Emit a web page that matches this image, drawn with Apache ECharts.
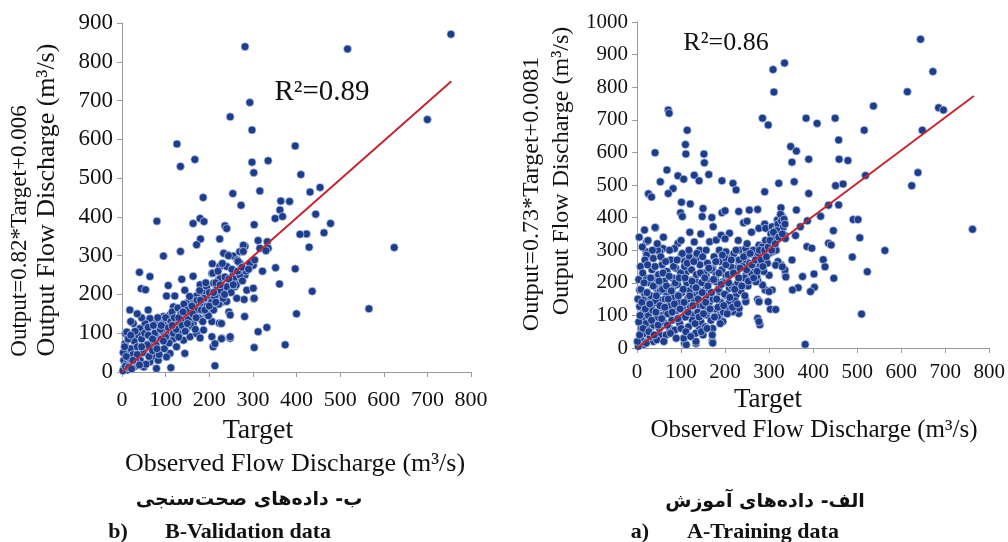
<!DOCTYPE html>
<html>
<head>
<meta charset="utf-8">
<script src="https://cdn.jsdelivr.net/npm/echarts@6/dist/echarts.min.js"></script>
<style>
  html, body { margin: 0; padding: 0; background: #fff; }
  #chart { width: 1008px; height: 542px; }
</style>
</head>
<body>
<div id="chart"></div>
<script>
// values: [target, output]
const validationPoints = [
  [754,871],[282,839],[517,833],[293,695],[248,658],[700,651],[298,624],[126,588],[397,583],[167,548],
  [335,545],[298,541],[134,530],[302,514],[410,509],[454,476],[431,464],[316,467],[254,460],[186,450],
  [273,430],[364,441],[384,440],[444,407],[179,396],[188,388],[163,383],[80,389],[478,383],[362,418],
  [351,396],[368,401],[303,380],[236,377],[240,370],[423,356],[408,355],[463,359],[180,343],[224,343],
  [312,339],[333,336],[171,328],[282,324],[429,322],[624,321],[316,319],[335,319],[95,299],[134,311],
  [330,313],[397,266],[352,269],[322,260],[301,275],[361,227],[436,208],[302,189],[280,187],[566,163],
  [400,150],[281,143],[245,155],[332,115],[312,104],[374,70],[303,63],[248,87],[229,87],[213,16],
  [112,11],[40,257],[64,246],[44,215],[54,212],[18,160],[8,99],[209,65],[206,130],[223,126],
  [229,180],[224,201],[217,220],[221,237],[206,254],[207,279],[224,272],[243,302],[255,299],[264,289],
  [270,310],[278,327],[259,254],[264,242],[259,220],[282,250],[285,263],[293,280],[304,289],
  [106,223],[121,196],[137,239],[102,196],[144,211],[163,247],[179,225],[194,219],[171,196],[156,187],
  [187,203],[210,229],[225,241],[218,216],[202,195],[179,168],[163,160],[148,177],[133,160],[118,168],
  [110,147],[95,143],[79,134],[64,138],[53,125],[41,112],[26,125],[26,99],[11,103],[7,73],
  [15,48],[4,30],[23,22],[34,39],[50,57],[64,73],[79,91],[95,103],[110,116],[125,125],
  [141,134],[156,147],[171,160],[187,173],[202,186],[218,199],[233,212],[248,229],[72,39],[87,57],
  [102,73],[118,86],[133,99],[148,112],[163,125],[179,138],[194,151],[210,160],[110,48],[125,65],
  [141,82],[156,91],[171,99],[187,108],[50,13],[79,9],[64,26],[83,30],[102,39],[144,48],
  [179,88],[206,91],[213,73],[228,86],[248,91],[240,272],[233,306],[255,251],[270,281],[278,311],
  [286,211],[301,216],[303,190],[263,190],[248,147],[228,125],[240,182],
  [5,10],[10,20],[12,5],[18,35],[20,60],[25,45],[28,80],[30,15],[35,65],[38,95],
  [42,30],[45,85],[48,50],[52,100],[55,20],[58,70],[60,115],[62,40],[66,90],[70,55],
  [72,120],[75,100],[78,70],[82,140],[85,45],[88,110],[90,85],[94,125],[97,60],[100,140],
  [104,95],[106,115],[108,75],[112,130],[115,155],[118,100],[120,140],[124,110],[128,165],[130,90],
  [135,150],[138,120],[142,175],[145,105],[150,160],[152,135],[155,195],[158,120],[162,150],[165,175],
  [168,110],[172,185],[175,140],[178,210],[182,160],[185,130],[188,190],[192,230],[195,170],[198,145],
  [200,205],[205,180],[208,255],[212,195],[215,230],[220,260],[222,175],[226,210],[230,280],[232,190],
  [236,245],[240,220],[244,300],[250,205],[252,265],[256,240],[262,225],[266,285],[270,250],[276,235],
  [284,260],[2,3],[8,15],[15,12],[22,8],[32,28],[40,18],[3,50],[14,85],[30,105],
  [20,130],[45,140],[60,160],[35,150],[10,40],[6,65],
  [90,120],[100,90],[115,120],[130,140],[140,155],[150,125],[160,170],[170,140],[180,185],[190,160],
  [200,170],[210,205],[215,180],[225,225],[235,200],[245,240],[255,225],[265,260],[275,270],[290,265],
  [60,95],[45,65],[35,45],[25,30],[70,85],[80,60],[95,80],[20,95]
];

const trainingPoints = [
  [644,947],[335,874],[672,848],[309,854],[311,785],[614,786],[537,742],[685,737],[696,730],[71,730],
  [73,720],[285,705],[298,684],[384,705],[450,705],[409,689],[516,668],[648,668],[114,668],[458,638],
  [349,618],[362,604],[110,624],[111,595],[152,595],[153,568],[390,579],[459,579],[479,575],[352,570],
  [41,599],[68,546],[163,532],[130,530],[93,528],[106,518],[141,513],[193,513],[53,510],[82,489],
  [519,529],[638,538],[218,505],[225,485],[322,505],[357,510],[451,498],[468,503],[624,498],[26,473],
  [33,463],[71,474],[290,479],[390,474],[42,369],[17,362],[101,447],[121,442],[99,415],[103,403],
  [150,428],[148,403],[170,400],[173,372],[193,415],[200,421],[231,419],[255,423],[274,425],[242,384],
  [250,389],[277,367],[290,380],[330,403],[327,430],[319,393],[362,423],[458,439],[435,438],[417,404],
  [387,390],[371,372],[360,345],[336,345],[337,336],[491,394],[502,394],[762,364],[506,338],[446,360],
  [435,321],[441,316],[563,299],[489,279],[423,271],[427,249],[447,214],[523,234],[352,270],[366,185],
  [386,311],[397,306],[376,219],[402,227],[403,186],[394,173],[337,224],[336,239],[327,255],[320,265],
  [307,178],[303,119],[315,118],[298,142],[291,178],[285,193],[274,149],[277,143],[274,91],[279,71],
  [277,81],[247,147],[231,106],[510,104],[382,11],[171,21],[134,14],[108,14],[22,19],
  [41,370],[22,326],[21,295],[22,285],[37,275],[59,305],[52,295],[22,214],[41,214],[44,183],
  [59,193],[6,178],[17,168],[29,157],[14,147],[6,127],[22,127],[37,137],[52,147],[67,168],
  [82,188],[93,321],[101,285],[108,265],[101,218],[112,233],[119,279],[134,274],[123,208],[142,300],
  [157,300],[165,326],[180,331],[191,346],[210,352],[187,300],[202,295],[217,280],[232,300],[247,305],
  [258,290],[270,285],[232,260],[247,270],[292,367],[307,372],[315,362],[277,315],[292,305],[307,295],
  [315,254],[330,249],[338,218],[274,208],[300,173],[277,142],[247,142],[232,122],[217,111],[187,101],
  [195,81],[172,60],[150,40],[134,20],[112,10],[172,15],[142,60],[157,101],[127,101],[97,91],
  [74,60],[52,40],[37,20],[14,10],[29,60],[44,81],[59,101],[82,122],[112,142],[134,162],
  [157,183],[180,203],[202,223],[225,244],[247,223],[262,244],[277,264],[292,274],[112,183],[134,203],
  [157,223],[172,244],[89,162],[67,111],[89,142],[142,132],[165,142],[187,173],[210,183],[225,162],
  [210,142],[195,203],[270,203],[300,223],[353,178],
  [3,5],[8,30],[10,60],[12,90],[15,110],[18,45],[20,75],[24,130],[26,100],[28,200],
  [30,35],[32,160],[34,240],[36,115],[38,70],[40,190],[42,145],[45,25],[47,95],[49,225],
  [51,60],[53,175],[55,125],[57,255],[60,80],[62,205],[64,150],[66,40],[68,235],[70,105],
  [72,180],[75,130],[77,270],[79,85],[81,215],[84,155],[86,55],[88,245],[90,115],[92,195],
  [95,140],[97,75],[99,230],[102,170],[104,120],[106,30],[108,250],[110,95],[113,200],[115,150],
  [117,65],[119,175],[121,125],[124,240],[126,85],[128,190],[131,145],[133,45],[135,225],[138,110],
  [140,175],[143,255],[145,80],[147,200],[150,130],[152,230],[155,65],[157,160],[160,260],[162,115],
  [165,205],[168,85],[170,240],[173,150],[175,280],[178,120],[180,225],[183,95],[185,180],[188,265],
  [190,140],[193,240],[196,110],[198,200],[201,275],[204,160],[207,225],[210,120],[213,250],[216,190],
  [220,290],[223,145],[226,230],[229,200],[232,270],[236,175],[240,250],[244,215],[248,285],[252,190],
  [256,260],[260,230],[264,300],[268,245],[272,220],[276,290],[280,255],[284,310],[288,235],[292,330],
  [296,260],[300,290],[304,350],[308,320],[312,340],[316,300],[320,380],[324,355],[328,390],[332,370],
  [326,410],[318,360],[5,340],[12,310],[8,250],[2,150],[4,210],[18,270],[25,330],[47,300],
  [60,340],[100,330],[85,305],[130,325],[120,355],[145,350],[200,335],[230,330],[260,355],[250,320],
  [1,20],[4,80],[6,40],[7,100],[9,180],[11,140],[13,230],[14,60],[16,200],[19,120],
  [21,15],[23,170],[24,255],[27,50],[29,135],[31,215],[33,85],[35,300],[37,190],[39,40],
  [41,250],[43,110],[44,160],[46,320],[48,70],[50,205],[52,130],[54,280],[56,90],[58,180],
  [59,230],[61,20],[63,125],[65,265],[67,190],[69,70],[71,150],[73,220],[74,300],[76,45],
  [78,175],[80,110],[83,250],[85,135],[87,200],[89,30],[91,270],[93,90],[94,160],[96,215],
  [98,120],[100,60],[103,290],[105,180],[107,140],[109,215],[111,50],[114,260],[116,110],[118,300],
  [120,160],[122,35],[125,205],[127,130],[129,265],[132,75],[134,185],[136,290],[139,150],[141,95],
  [144,230],[146,50],[148,170],[149,280],[151,105],[154,215],[156,140],[159,60],[161,190],[163,245],
  [166,120],[169,170],[171,40],[174,210],[176,95],[179,265],[181,150],[184,125],[186,230],[189,75],
  [191,195],[194,285],[197,130],[199,165],[202,255],[205,105],[208,200],[211,155],[214,270],[217,125],
  [219,230],[222,180],[225,300],[228,135],[231,215],[234,245],[238,190],[242,280],[245,160],[249,240],
  [253,205],[257,290],[261,255],[265,215],[269,270],[273,235],[278,300],[282,270],[286,250],[290,300],
  [294,280],[298,310],[302,330],[306,300],[310,355],[314,320],[322,340],[330,350],[334,395],[336,380]
];

// fitted lines as drawn (end points)
const validationLine = [[0, 0], [755, 750]];
const trainingLine = [[0, 0], [765, 773]];

const validationYMax = 900;
const trainingYMax = 1000;
const xMax = 800;

const serif = "'Liberation Serif', 'Times New Roman', serif";
const dotColor = "#1c3c8e";
const lineColor = "#c4262e";
const axisGrey = "#9a9a9a";

function xAxisFor(gridIndex, fontSize, margin) {
    return {
        type: "value", gridIndex: gridIndex, min: 0, max: xMax, interval: 100,
        axisLine: { show: true, lineStyle: { color: axisGrey } },
        axisTick: { show: true, length: 5, lineStyle: { color: axisGrey } },
        splitLine: { show: false },
        axisLabel: { color: "#111", fontFamily: serif, fontSize: fontSize, margin: margin }
    };
}

function yAxisFor(gridIndex, max, fontSize) {
    return {
        type: "value", gridIndex: gridIndex, min: 0, max: max, interval: 100,
        axisLine: { show: true, lineStyle: { color: axisGrey } },
        axisTick: { show: true, length: 5, lineStyle: { color: axisGrey } },
        splitLine: { show: false },
        axisLabel: { color: "#111", fontFamily: serif, fontSize: fontSize, margin: 9, formatter: v => String(v) }
    };
}

function scatterFor(index, points, size) {
    return {
        type: "scatter", xAxisIndex: index, yAxisIndex: index, data: points,
        symbolSize: size,
        itemStyle: { color: dotColor, borderColor: "#c9d4ec", borderWidth: 0.7, opacity: 1 }
    };
}

function lineFor(index, points) {
    return {
        type: "line", xAxisIndex: index, yAxisIndex: index, data: points,
        showSymbol: false, z: 5,
        lineStyle: { color: lineColor, width: 2 }
    };
}

function txt(x, y, text, size, opts) {
    opts = opts || {};
    return {
        type: "text", x: x, y: y, rotation: opts.rotate ? Math.PI / 2 : 0, z: 10,
        style: {
            text: text, fill: "#111",
            fontFamily: opts.family || serif, fontSize: size, fontWeight: opts.bold ? "bold" : "normal",
            align: "center", verticalAlign: "middle"
        }
    };
}

const chart = echarts.init(document.getElementById("chart"), null, { renderer: "canvas" });
chart.setOption({
    animation: false,
    backgroundColor: "#fff",
    grid: [
        { left: 122, top: 23, width: 349, height: 349 },
        { left: 637, top: 22, width: 355, height: 326 }
    ],
    xAxis: [xAxisFor(0, 22, 17), xAxisFor(1, 21, 14)],
    yAxis: [yAxisFor(0, validationYMax, 23), yAxisFor(1, trainingYMax, 21)],
    series: [
        scatterFor(0, validationPoints, 8),
        lineFor(0, validationLine),
        scatterFor(1, trainingPoints, 8),
        lineFor(1, trainingLine)
    ],
    graphic: [
        // left panel
        txt(20, 231, "Output=0.82*Target+0.006", 23, { rotate: true }),
        txt(47, 200, "Output Flow Discharge (m³/s)", 26, { rotate: true }),
        txt(322, 92, "R²=0.89", 29),
        txt(258, 431, "Target", 28),
        txt(295, 464, "Observed Flow Discharge (m³/s)", 26),
        txt(249, 500, "ب- داده‌های صحت‌سنجی", 19, { bold: true, family: "'DejaVu Sans', sans-serif" }),
        txt(118, 532, "b)", 22, { bold: true }),
        txt(248, 532, "B-Validation data", 22, { bold: true }),
        // right panel
        txt(532, 194, "Output=0.73*Target+0.0081", 24, { rotate: true }),
        txt(562, 171, "Output Flow Discharge (m³/s)", 24, { rotate: true }),
        txt(726, 43, "R²=0.86", 26),
        txt(768, 400, "Target", 27),
        txt(814, 430, "Observed Flow Discharge (m³/s)", 25),
        txt(765, 502, "الف- داده‌های آموزش", 19, { bold: true, family: "'DejaVu Sans', sans-serif" }),
        txt(640, 532, "a)", 22, { bold: true }),
        txt(763, 532, "A-Training data", 22, { bold: true })
    ]
});
</script>
</body>
</html>
